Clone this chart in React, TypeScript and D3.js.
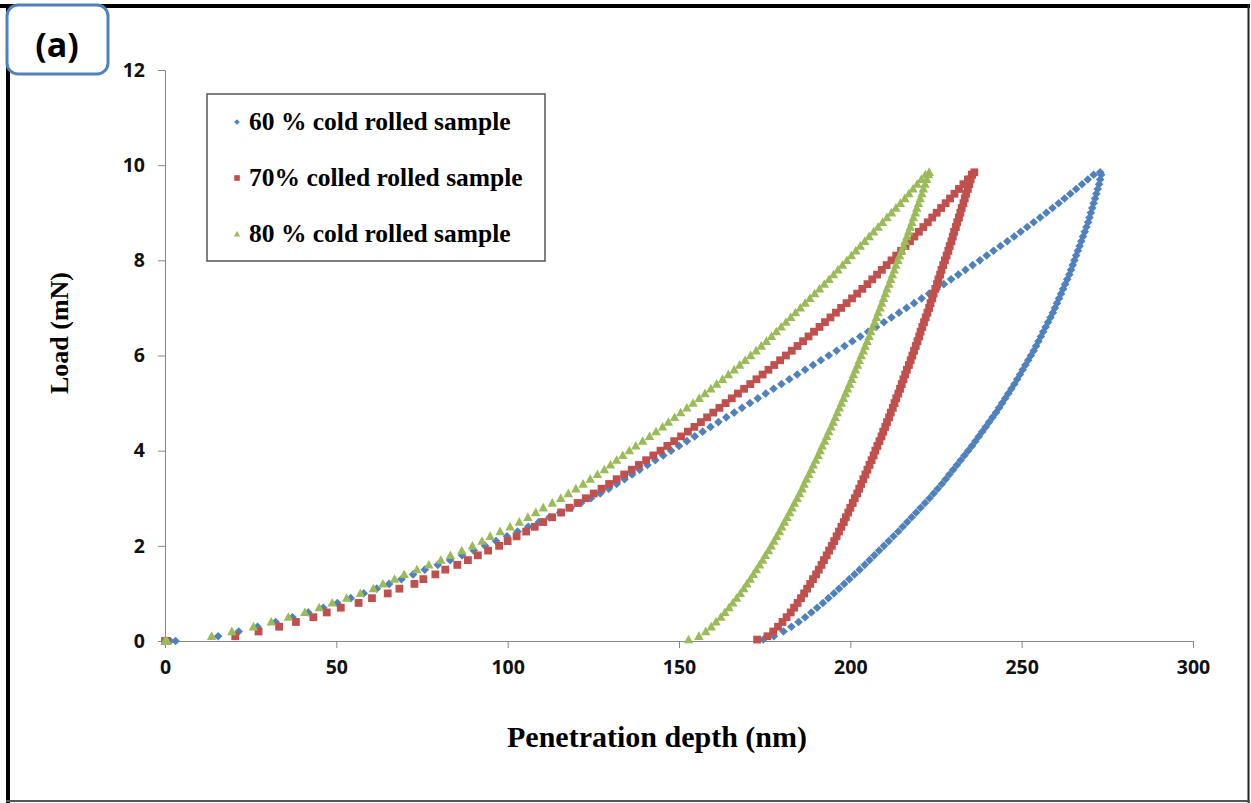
import React, { useEffect, useRef } from 'react';
import * as d3 from 'd3';

// load levels (mN) shared by loading / unloading branches
const loadSteps = [
  0.1, 0.2, 0.3, 0.4, 0.5, 0.6, 0.7, 0.8, 0.9, 1.0,
  1.1, 1.2, 1.3, 1.4, 1.5, 1.6, 1.7, 1.8, 1.9, 2.0,
  2.1, 2.2, 2.3, 2.4, 2.5, 2.6, 2.7, 2.8, 2.9, 3.0,
  3.1, 3.2, 3.3, 3.4, 3.5, 3.6, 3.7, 3.8, 3.9, 4.0,
  4.1, 4.2, 4.3, 4.4, 4.5, 4.6, 4.7, 4.8, 4.9, 5.0,
  5.1, 5.2, 5.3, 5.4, 5.5, 5.6, 5.7, 5.8, 5.9, 6.0,
  6.1, 6.2, 6.3, 6.4, 6.5, 6.6, 6.7, 6.8, 6.9, 7.0,
  7.1, 7.2, 7.3, 7.4, 7.5, 7.6, 7.7, 7.8, 7.9, 8.0,
  8.1, 8.2, 8.3, 8.4, 8.5, 8.6, 8.7, 8.8, 8.9, 9.0,
  9.1, 9.2, 9.3, 9.4, 9.5, 9.6, 9.7, 9.8,
];
const peakLoad = 9.85;
const endLoad = 0.03;

// 60 % cold rolled (depth nm)
const contact60 = [0, 1.5, 3.1];
const loading60 = [
  15.5, 21.5, 27.0, 32.3, 37.2, 41.8, 46.2, 50.3, 54.2, 58.0,
  61.8, 65.4, 69.0, 72.4, 75.8, 79.6, 83.2, 86.7, 90.1, 93.4,
  96.6, 99.8, 102.9, 106.0, 109.1, 112.2, 115.3, 118.4, 121.4, 124.3,
  127.0, 129.5, 131.8, 134.1, 136.3, 138.5, 140.8, 143.1, 145.4, 147.7,
  150.0, 152.3, 154.6, 156.9, 159.2, 161.5, 163.8, 166.1, 168.4, 170.7,
  173.0, 175.3, 177.6, 179.9, 182.2, 184.5, 186.8, 189.1, 191.4, 193.7,
  196.0, 198.3, 200.6, 202.9, 205.2, 207.5, 209.8, 212.0, 214.2, 216.4,
  218.6, 220.8, 223.0, 225.2, 227.3, 229.4, 231.5, 233.6, 235.7, 237.8,
  239.8, 241.8, 243.8, 245.8, 247.8, 249.7, 251.6, 253.5, 255.4, 257.2,
  259.0, 260.8, 262.5, 264.2, 265.9, 267.6, 269.3, 271.0,
];
const peak60 = 272.9;
const unloading60 = [
  177.7, 180.5, 182.8, 184.9, 186.8, 188.6, 190.3, 192.0, 193.6, 195.2,
  196.7, 198.2, 199.7, 201.2, 202.7, 204.2, 205.6, 207.0, 208.4, 209.8,
  211.2, 212.6, 214.0, 215.3, 216.6, 217.9, 219.2, 220.5, 221.8, 223.1,
  224.3, 225.5, 226.7, 227.8, 228.9, 230.0, 231.1, 232.2, 233.3, 234.4,
  235.5, 236.5, 237.5, 238.5, 239.5, 240.5, 241.5, 242.5, 243.4, 244.3,
  245.2, 246.1, 247.0, 247.9, 248.7, 249.5, 250.3, 251.1, 251.9, 252.7,
  253.5, 254.2, 254.9, 255.6, 256.3, 257.0, 257.7, 258.4, 259.1, 259.7,
  260.3, 260.9, 261.5, 262.1, 262.7, 263.3, 263.9, 264.4, 264.9, 265.4,
  265.9, 266.4, 266.9, 267.4, 267.9, 268.4, 268.9, 269.4, 269.8, 270.2,
  270.6, 271.0, 271.4, 271.8, 272.2, 272.6, 272.9, 273.2,
];
const end60 = 174.6;

// 70 % rolled
const contact70 = [0, 0.5];
const loading70 = [
  20.5, 27.3, 33.3, 38.2, 43.3, 47.2, 51.3, 56.5, 60.4, 65.0,
  68.4, 72.8, 75.4, 78.9, 81.8, 85.3, 88.4, 91.3, 94.3, 97.5,
  100.0, 102.6, 105.4, 107.9, 110.4, 113.0, 115.6, 118.0, 120.4, 122.8,
  125.1, 127.4, 129.6, 131.8, 134.0, 136.2, 138.3, 140.4, 142.5, 144.6,
  146.6, 148.6, 150.6, 152.6, 154.5, 156.4, 158.2, 160.0, 161.8, 163.6,
  165.4, 167.2, 169.0, 170.8, 172.6, 174.4, 176.1, 177.8, 179.5, 181.2,
  182.9, 184.6, 186.2, 187.8, 189.4, 191.0, 192.6, 194.2, 195.8, 197.3,
  198.9, 200.5, 202.0, 203.5, 205.0, 206.4, 207.8, 209.2, 210.6, 212.0,
  213.4, 214.8, 216.1, 217.4, 218.7, 220.0, 221.3, 222.6, 223.9, 225.2,
  226.5, 227.8, 229.1, 230.4, 231.7, 233.0, 234.3, 235.5,
];
const peak70 = 236.2;
const unloading70 = [
  175.8, 177.5, 178.9, 180.2, 181.4, 182.6, 183.6, 184.6, 185.6, 186.5,
  187.4, 188.3, 189.1, 190.0, 190.8, 191.6, 192.3, 193.1, 193.8, 194.6,
  195.3, 196.0, 196.7, 197.4, 198.1, 198.7, 199.4, 200.0, 200.7, 201.3,
  202.0, 202.6, 203.2, 203.8, 204.4, 205.0, 205.6, 206.2, 206.8, 207.3,
  207.9, 208.5, 209.1, 209.6, 210.2, 210.7, 211.3, 211.8, 212.4, 212.9,
  213.4, 214.0, 214.5, 215.0, 215.5, 216.0, 216.5, 217.1, 217.6, 218.1,
  218.6, 219.1, 219.6, 220.1, 220.5, 221.0, 221.5, 222.0, 222.5, 223.0,
  223.4, 223.9, 224.3, 224.8, 225.3, 225.7, 226.2, 226.6, 227.1, 227.6,
  228.1, 228.6, 229.0, 229.5, 229.9, 230.3, 230.8, 231.2, 231.7, 232.1,
  232.5, 233.0, 233.4, 233.8, 234.3, 234.7, 235.1, 235.5,
];
const end70 = 172.8;

// 80 % cold rolled
const contact80 = [0, 0.6];
const loading80 = [
  13.6, 19.5, 25.8, 31.0, 36.0, 40.8, 45.0, 48.8, 53.0, 57.0,
  60.8, 63.6, 67.0, 69.8, 73.5, 77.0, 80.5, 83.3, 86.6, 89.7,
  92.5, 94.9, 97.8, 100.7, 103.4, 105.9, 108.2, 110.4, 113.0, 115.5,
  117.7, 119.9, 122.0, 124.1, 126.2, 128.2, 130.0, 131.8, 133.6, 135.5,
  137.4, 139.4, 141.4, 143.3, 145.2, 146.9, 148.7, 150.5, 152.3, 154.1,
  155.9, 157.6, 159.3, 161.0, 162.7, 164.4, 166.1, 167.7, 169.3, 170.9,
  172.5, 174.0, 175.5, 177.0, 178.4, 179.8, 181.2, 182.6, 184.0, 185.4,
  186.8, 188.2, 189.6, 191.0, 192.4, 193.8, 195.1, 196.4, 197.7, 199.0,
  200.3, 201.6, 202.9, 204.2, 205.5, 206.8, 208.1, 209.4, 210.7, 212.0,
  213.3, 214.6, 215.9, 217.1, 218.3, 219.5, 220.7, 221.9,
];
const peak80 = 223.0;
const unloading80 = [
  155.8, 157.8, 159.4, 160.8, 162.2, 163.4, 164.6, 165.7, 166.8, 167.9,
  168.9, 169.8, 170.8, 171.7, 172.6, 173.5, 174.4, 175.2, 176.1, 176.9,
  177.7, 178.5, 179.3, 180.0, 180.8, 181.5, 182.3, 183.0, 183.7, 184.5,
  185.2, 185.9, 186.5, 187.2, 187.9, 188.6, 189.2, 189.9, 190.6, 191.2,
  191.8, 192.5, 193.1, 193.7, 194.4, 195.0, 195.6, 196.2, 196.8, 197.4,
  198.0, 198.6, 199.2, 199.8, 200.4, 200.9, 201.5, 202.1, 202.6, 203.2,
  203.8, 204.3, 204.9, 205.5, 206.0, 206.5, 207.1, 207.6, 208.1, 208.7,
  209.2, 209.7, 210.2, 210.7, 211.3, 211.8, 212.3, 212.8, 213.3, 213.9,
  214.4, 215.0, 215.5, 216.0, 216.5, 217.0, 217.5, 218.0, 218.4, 219.0,
  219.4, 219.9, 220.4, 220.9, 221.3, 221.8, 222.3, 222.8,
];
const end80 = 152.8;

const seriesNames = ['60 % cold rolled sample', '70% colled rolled sample', '80 % cold rolled sample'];
const xTicks = [0, 50, 100, 150, 200, 250, 300];
const yTicks = [0, 2, 4, 6, 8, 10, 12];

const colors = ['#4F81BD', '#C0504D', '#9BBB59'];
const shapes = [
  (s: number) => `M0,${-s}L${s},0L0,${s}L${-s},0Z`,
  (s: number) => `M${-s},${-s}h${2 * s}v${2 * s}h${-2 * s}Z`,
  (s: number) => `M0,${-s * 1.15}L${s * 1.1},${s * 0.85}L${-s * 1.1},${s * 0.85}Z`,
];

const buildCurve = (contact: number[], up: number[], peak: number, down: number[], end: number) => {
  const pts: [number, number][] = [];
  contact.forEach((h) => pts.push([h, 0]));
  up.forEach((h, i) => pts.push([h, loadSteps[i]]));
  pts.push([peak, peakLoad]);
  for (let i = down.length - 1; i >= 0; i--) pts.push([down[i], loadSteps[i]]);
  pts.push([end, endLoad]);
  return pts;
};

const App = () => {
  const svgRef = useRef<SVGSVGElement>(null);

  useEffect(() => {
    const svg = d3.select(svgRef.current);
    svg.selectAll('*').remove();
    const width = 1251;
    const height = 803;

    svg.append('rect').attr('width', width).attr('height', height).attr('fill', '#fff');

    // outer frame
    svg.append('line').attr('x1', 0).attr('x2', 1250).attr('y1', 6).attr('y2', 6)
      .attr('stroke', '#000').attr('stroke-width', 4);
    svg.append('line').attr('x1', 8).attr('x2', 8).attr('y1', 4).attr('y2', 803)
      .attr('stroke', '#000').attr('stroke-width', 4);
    svg.append('line').attr('x1', 1248.5).attr('x2', 1248.5).attr('y1', 4).attr('y2', 803)
      .attr('stroke', '#222').attr('stroke-width', 2);
    svg.append('line').attr('x1', 6).attr('x2', 1250).attr('y1', 801).attr('y2', 801)
      .attr('stroke', '#555').attr('stroke-width', 2);

    // panel label
    svg.append('rect').attr('x', 7).attr('y', 5).attr('width', 101).attr('height', 69)
      .attr('rx', 11).attr('fill', '#fff').attr('stroke', '#4F81BD').attr('stroke-width', 3);
    svg.append('text').attr('x', 57).attr('y', 57).attr('text-anchor', 'middle')
      .style('font-family', '"Open Sans", sans-serif').style('font-weight', 700)
      .style('font-size', '34px').text('(a)');

    const xScale = d3.scaleLinear().domain([0, 300]).range([165, 1193]);
    const yScale = d3.scaleLinear().domain([0, 12]).range([641, 70]);

    const xAxis = svg.append('g').attr('transform', 'translate(0,641)')
      .call(d3.axisBottom(xScale).tickValues(xTicks).tickSize(7).tickPadding(12).tickSizeOuter(0));
    const yAxis = svg.append('g').attr('transform', 'translate(165,0)')
      .call(d3.axisLeft(yScale).tickValues(yTicks).tickSize(7).tickPadding(13).tickSizeOuter(0));

    [xAxis, yAxis].forEach((g) => {
      g.select('.domain').attr('stroke', '#878787');
      g.selectAll('.tick line').attr('stroke', '#878787');
      g.selectAll('.tick text')
        .attr('fill', '#111')
        .style('font-family', '"Open Sans", sans-serif')
        .style('font-weight', 700)
        .style('font-size', '19.5px');
    });

    const curves = [
      buildCurve(contact60, loading60, peak60, unloading60, end60),
      buildCurve(contact70, loading70, peak70, unloading70, end70),
      buildCurve(contact80, loading80, peak80, unloading80, end80),
    ];
    const markerSize = [4.3, 3.9, 4.3];

    curves.forEach((pts, k) => {
      svg.append('g').selectAll('path')
        .data(pts)
        .enter()
        .append('path')
        .attr('d', shapes[k](markerSize[k]))
        .attr('transform', (d) => `translate(${xScale(d[0])},${yScale(d[1])})`)
        .attr('fill', colors[k]);
    });

    // legend
    svg.append('rect').attr('x', 207).attr('y', 94).attr('width', 338).attr('height', 167)
      .attr('fill', '#fff').attr('stroke', '#555').attr('stroke-width', 1.5);
    const legendY = [122, 178, 234];
    seriesNames.forEach((name, k) => {
      svg.append('path').attr('d', shapes[k](2.8))
        .attr('transform', `translate(237,${legendY[k]})`).attr('fill', colors[k]);
      svg.append('text').attr('x', 249).attr('y', legendY[k] + 8)
        .style('font-family', '"Liberation Serif", serif').style('font-weight', 700)
        .style('font-size', '25.5px').text(name);
    });

    // axis titles
    svg.append('text')
      .attr('transform', 'translate(68,333) rotate(-90)')
      .style('text-anchor', 'middle')
      .style('font-family', '"Liberation Serif", serif').style('font-weight', 700)
      .style('font-size', '26px')
      .text('Load (mN)');

    svg.append('text')
      .attr('x', 657).attr('y', 747)
      .style('text-anchor', 'middle')
      .style('font-family', '"Liberation Serif", serif').style('font-weight', 700)
      .style('font-size', '30px')
      .text('Penetration depth (nm)');
  }, []);

  return (
    <svg
      ref={svgRef}
      width={1251}
      height={803}
      style={{ position: 'absolute', left: 0, top: 0, display: 'block' }}
    />
  );
};

export default App;
